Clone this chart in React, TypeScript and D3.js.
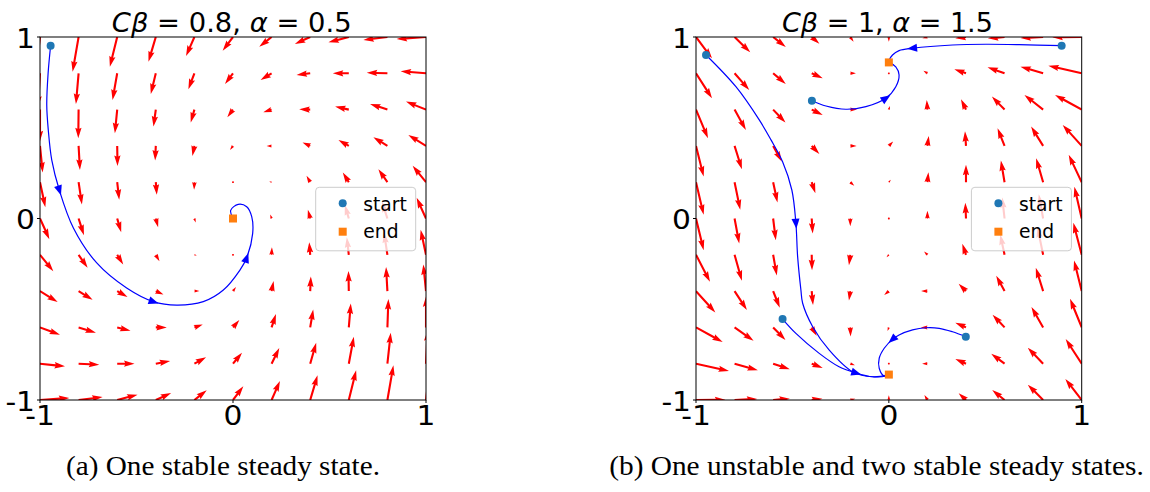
import React, { useLayoutEffect, useRef, useState } from 'react';
import * as d3 from 'd3';

// Quiver sampling grid (rows run from y = 1 down to y = -1)
const gridX = [-1, -0.8, -0.6, -0.4, -0.2, 0, 0.2, 0.4, 0.6, 0.8, 1];
const gridY = [1, 0.8, 0.6, 0.4, 0.2, 0, -0.2, -0.4, -0.6, -0.8, -1];
const tickValues = [-1, 0, 1];
const tickLabels = ['-1', '0', '1'];

// Panel (a): Cβ = 0.8, α = 0.5 — horizontal / vertical components per grid row
const fieldAU = [
  [-0.14, -0.18, -0.22, -0.22, -0.25, -0.31, -0.37, -0.46, -0.61, -0.72, -0.88],
  [-0.06, -0.08, -0.14, -0.15, -0.18, -0.24, -0.33, -0.41, -0.48, -0.62, -0.76],
  [0.0, -0.01, -0.07, -0.07, -0.11, -0.17, -0.25, -0.33, -0.41, -0.52, -0.6],
  [0.08, 0.04, 0.01, -0.02, -0.06, -0.09, -0.15, -0.23, -0.31, -0.42, -0.53],
  [0.16, 0.1, 0.06, 0.03, -0.01, -0.03, -0.07, -0.11, -0.18, -0.27, -0.4],
  [0.28, 0.16, 0.12, 0.07, 0.04, 0.0, -0.04, -0.07, -0.12, -0.16, -0.28],
  [0.4, 0.27, 0.18, 0.11, 0.07, 0.03, 0.01, -0.03, -0.06, -0.1, -0.16],
  [0.53, 0.42, 0.31, 0.23, 0.15, 0.09, 0.06, 0.02, -0.01, -0.04, -0.08],
  [0.6, 0.52, 0.4, 0.33, 0.25, 0.19, 0.13, 0.09, 0.06, 0.03, 0.0],
  [0.75, 0.62, 0.52, 0.43, 0.35, 0.27, 0.23, 0.18, 0.15, 0.1, 0.05],
  [0.88, 0.72, 0.61, 0.46, 0.37, 0.31, 0.25, 0.22, 0.22, 0.18, 0.14],
];
const fieldAV = [
  [-1.15, -1.04, -0.89, -0.74, -0.57, -0.41, -0.29, -0.21, -0.16, -0.09, -0.06],
  [-1.0, -0.92, -0.8, -0.62, -0.48, -0.32, -0.2, -0.05, 0.0, 0.02, 0.06],
  [-0.95, -0.86, -0.71, -0.51, -0.39, -0.23, -0.08, 0.01, 0.09, 0.17, 0.24],
  [-0.8, -0.72, -0.6, -0.44, -0.3, -0.12, 0.0, 0.1, 0.18, 0.26, 0.33],
  [-0.75, -0.67, -0.53, -0.38, -0.23, -0.04, 0.02, 0.19, 0.29, 0.39, 0.49],
  [-0.62, -0.5, -0.41, -0.26, -0.12, 0.0, 0.12, 0.26, 0.41, 0.5, 0.62],
  [-0.49, -0.39, -0.29, -0.19, -0.02, 0.04, 0.23, 0.38, 0.53, 0.67, 0.75],
  [-0.33, -0.26, -0.18, -0.1, 0.0, 0.12, 0.3, 0.44, 0.6, 0.72, 0.8],
  [-0.22, -0.16, -0.1, 0.0, 0.09, 0.22, 0.4, 0.54, 0.72, 0.85, 0.93],
  [-0.08, -0.03, 0.0, 0.08, 0.19, 0.33, 0.47, 0.63, 0.81, 0.93, 1.0],
  [0.06, 0.09, 0.16, 0.21, 0.29, 0.41, 0.57, 0.74, 0.89, 1.04, 1.15],
];

// Panel (b): Cβ = 1, α = 1.5
const fieldBU = [
  [0.48, 0.47, 0.38, 0.23, 0.1, 0.0, -0.15, -0.32, -0.5, -0.68, -0.88],
  [0.48, 0.44, 0.38, 0.33, 0.17, 0.0, -0.12, -0.35, -0.51, -0.68, -1.0],
  [0.36, 0.34, 0.37, 0.33, 0.2, 0.03, -0.02, -0.15, -0.38, -0.56, -0.8],
  [0.23, 0.22, 0.26, 0.23, 0.19, 0.13, 0.04, -0.03, -0.21, -0.36, -0.57],
  [0.23, 0.17, 0.13, 0.11, 0.12, 0.06, 0.03, 0.0, -0.11, -0.21, -0.39],
  [0.23, 0.14, 0.08, 0.03, 0.0, 0.0, 0.0, -0.02, -0.07, -0.13, -0.22],
  [0.42, 0.22, 0.11, 0.01, -0.04, -0.07, -0.1, -0.11, -0.13, -0.17, -0.25],
  [0.58, 0.37, 0.2, 0.04, -0.04, -0.14, -0.19, -0.22, -0.25, -0.22, -0.23],
  [0.8, 0.57, 0.37, 0.15, 0.01, -0.04, -0.2, -0.32, -0.36, -0.35, -0.35],
  [0.99, 0.7, 0.5, 0.33, 0.14, 0.0, -0.16, -0.32, -0.4, -0.46, -0.48],
  [0.88, 0.68, 0.5, 0.32, 0.15, 0.0, -0.09, -0.22, -0.37, -0.46, -0.49],
];
const fieldBV = [
  [-0.64, -0.46, -0.3, -0.2, -0.14, -0.14, -0.04, -0.04, -0.04, -0.03, -0.01],
  [-0.75, -0.5, -0.32, -0.15, 0.0, 0.02, 0.08, 0.12, 0.18, 0.2, 0.23],
  [-0.86, -0.61, -0.39, -0.16, 0.0, 0.11, 0.29, 0.31, 0.39, 0.44, 0.44],
  [-0.92, -0.7, -0.47, -0.24, 0.0, 0.13, 0.3, 0.44, 0.53, 0.58, 0.63],
  [-0.98, -0.83, -0.61, -0.33, -0.11, 0.07, 0.3, 0.52, 0.65, 0.72, 0.82],
  [-0.95, -0.75, -0.65, -0.45, -0.23, 0.0, 0.23, 0.47, 0.63, 0.73, 0.95],
  [-0.81, -0.78, -0.62, -0.46, -0.31, -0.07, 0.1, 0.33, 0.61, 0.83, 0.96],
  [-0.64, -0.57, -0.5, -0.42, -0.28, -0.12, 0.0, 0.22, 0.46, 0.7, 0.92],
  [-0.44, -0.4, -0.38, -0.25, -0.27, -0.11, 0.0, 0.14, 0.38, 0.61, 0.86],
  [-0.22, -0.2, -0.17, -0.13, -0.05, -0.02, 0.0, 0.14, 0.3, 0.48, 0.74],
  [0.01, 0.03, 0.04, 0.04, 0.04, 0.14, 0.15, 0.2, 0.3, 0.46, 0.63],
];

// Integrated trajectories (first point is the start state)
const pathsA = [
  [
    [-0.945, 0.952], [-0.958, 0.8], [-0.965, 0.625], [-0.957, 0.487], [-0.939, 0.322],
    [-0.9, 0.157], [-0.827, -0.052], [-0.706, -0.245], [-0.551, -0.383], [-0.413, -0.458],
    [-0.292, -0.477], [-0.154, -0.458], [-0.05, -0.394], [0.036, -0.284], [0.07, -0.219],
    [0.102, -0.082], [0.097, 0.01], [0.071, 0.065], [0.027, 0.078], [-0.012, 0.045], [0.0, 0.0],
  ],
];
const arrowsA = [[0, 5], [0, 9], [0, 14]];
const endsA = [[0, 0]];

const pathsB = [
  [
    [-0.948, 0.901], [-0.793, 0.726], [-0.672, 0.543], [-0.611, 0.433], [-0.551, 0.313],
    [-0.503, 0.157], [-0.482, -0.026], [-0.473, -0.21], [-0.456, -0.394], [-0.447, -0.467],
    [-0.395, -0.596], [-0.309, -0.725], [-0.188, -0.844], [-0.084, -0.872], [0.0, -0.86],
  ],
  [
    [-0.551, -0.554], [-0.482, -0.633], [-0.361, -0.743], [-0.258, -0.817], [-0.171, -0.851],
    [-0.083, -0.872], [-0.015, -0.868], [0.0, -0.86],
  ],
  [
    [0.399, -0.651], [0.33, -0.624], [0.261, -0.605], [0.192, -0.602], [0.123, -0.614],
    [0.053, -0.642], [0.019, -0.666], [-0.024, -0.715], [-0.05, -0.77], [-0.05, -0.825],
    [-0.024, -0.868], [0.0, -0.86],
  ],
  [
    [-0.399, 0.649], [-0.326, 0.62], [-0.223, 0.602], [-0.119, 0.616], [-0.016, 0.662],
    [0.036, 0.726], [0.053, 0.791], [0.036, 0.836], [0.0, 0.86],
  ],
  [
    [0.896, 0.952], [0.675, 0.958], [0.503, 0.96], [0.33, 0.956], [0.123, 0.938],
    [0.053, 0.925], [0.019, 0.901], [0.002, 0.873], [0.0, 0.86],
  ],
];
const arrowsB = [[0, 6], [1, 4], [2, 6], [3, 4], [4, 4]];
const endsB = [[0, -0.86], [0, 0.86]];

const titleA: [string, boolean][] = [['Cβ', true], [' = 0.8, ', false], ['α', true], [' = 0.5', false]];
const titleB: [string, boolean][] = [['Cβ', true], [' = 1, ', false], ['α', true], [' = 1.5', false]];
const captions = ['(a) One stable steady state.', '(b) One unstable and two stable steady states.'];
const legendLabels = ['start', 'end'];

const RED = '#ff0000';
const BLUE = '#0000ff';
const START_C = '#1f77b4';
const END_C = '#ff7f0e';
const SANS = '"DejaVu Sans", sans-serif';
const SERIF = '"Liberation Serif", "DejaVu Serif", serif';

// pixels per field unit for the quiver arrows
const K = 100 / 3;
// matplotlib-like quiver geometry (shaft width in px)
const QW = 2.1;
// tick labels are drawn slightly wide
const STRETCH = 1.1;

function quiverShape(x: number, y: number, dx: number, dy: number): string {
  const L = Math.hypot(dx, dy);
  if (L < QW) {
    const r = QW / 2;
    const pts = d3.range(6).map((k) => {
      const a = (Math.PI / 3) * k;
      return [x + r * Math.cos(a), y + r * Math.sin(a)];
    });
    return 'M' + pts.map((p) => p.join(',')).join('L') + 'Z';
  }
  const hl = 5 * QW;
  const hal = 4.5 * QW;
  const hw = 3 * QW;
  const minsh = hl;
  let len = L;
  let s = 1;
  if (L < minsh) {
    len = minsh;
    s = L / minsh;
  }
  const local = [
    [0, 0.5 * QW],
    [len - hal, 0.5 * QW],
    [len - hl, 0.5 * hw],
    [len, 0],
    [len - hl, -0.5 * hw],
    [len - hal, -0.5 * QW],
    [0, -0.5 * QW],
  ];
  const c = dx / L;
  const sn = dy / L;
  const pts = local.map(([px, py]) => {
    const qx = px * s;
    const qy = py * s;
    return [x + qx * c - qy * sn, y + qx * sn + qy * c];
  });
  return 'M' + pts.map((p) => p[0].toFixed(2) + ',' + p[1].toFixed(2)).join('L') + 'Z';
}

// Text squeezed or stretched horizontally to a given width, centred on x
function FitText({
  x,
  y,
  width,
  family,
  size,
  children,
}: {
  x: number;
  y: number;
  width: number;
  family: string;
  size: number;
  children: React.ReactNode;
}) {
  const ref = useRef<SVGTextElement>(null);
  const [sx, setSx] = useState(1);
  useLayoutEffect(() => {
    const el = ref.current;
    if (!el) return;
    const n = el.getComputedTextLength();
    if (n > 0) setSx(width / n);
  }, [width]);
  return (
    <text
      ref={ref}
      transform={`translate(${x},${y}) scale(${sx},1)`}
      textAnchor="middle"
      fontFamily={family}
      fontSize={size}
      style={{ whiteSpace: 'pre' }}
    >
      {children}
    </text>
  );
}

type PanelProps = {
  id: string;
  left: number;
  top: number;
  width: number;
  height: number;
  U: number[][];
  V: number[][];
  paths: number[][][];
  arrows: number[][];
  ends: number[][];
  title: [string, boolean][];
  titleCenter: number;
  titleWidth: number;
};

function Panel({
  id,
  left,
  top,
  width,
  height,
  U,
  V,
  paths,
  arrows,
  ends,
  title,
  titleCenter,
  titleWidth,
}: PanelProps) {
  const xs = d3.scaleLinear().domain([-1, 1]).range([left, left + width]);
  const ys = d3.scaleLinear().domain([-1, 1]).range([top + height, top]);
  const line = d3
    .line<number[]>()
    .x((d) => xs(d[0]))
    .y((d) => ys(d[1]))
    .curve(d3.curveCatmullRom.alpha(0.5));

  const quiver: string[] = [];
  gridY.forEach((gy, j) => {
    gridX.forEach((gx, i) => {
      quiver.push(quiverShape(xs(gx), ys(gy), U[j][i] * K, -V[j][i] * K));
    });
  });

  const heads = arrows.map(([p, k]) => {
    const path = paths[p];
    const a = path[Math.max(0, k - 1)];
    const b = path[Math.min(path.length - 1, k + 1)];
    const cx = xs(path[k][0]);
    const cy = ys(path[k][1]);
    const ang = Math.atan2(ys(b[1]) - ys(a[1]), xs(b[0]) - xs(a[0]));
    const c = Math.cos(ang);
    const s = Math.sin(ang);
    const tri = [
      [5.5, 0],
      [-4.5, 4],
      [-4.5, -4],
    ].map(([u, v]) => [cx + u * c - v * s, cy + u * s + v * c]);
    return 'M' + tri.map((q) => q.join(',')).join('L') + 'Z';
  });

  const lg = { x: left + width - 110.3, y: top + 150.3, w: 100, h: 63.5 };

  return (
    <g>
      <defs>
        <clipPath id={id}>
          <rect x={left} y={top} width={width} height={height} />
        </clipPath>
      </defs>
      <g clipPath={`url(#${id})`}>
        {quiver.map((d, k) => (
          <path key={k} d={d} fill={RED} />
        ))}
        {paths.map((p, k) => (
          <path key={k} d={line(p) || ''} fill="none" stroke={BLUE} strokeWidth={1.2} />
        ))}
        {heads.map((d, k) => (
          <path key={k} d={d} fill={BLUE} />
        ))}
      </g>
      {paths.map((p, k) => (
        <circle key={k} cx={xs(p[0][0])} cy={ys(p[0][1])} r={4} fill={START_C} />
      ))}
      {ends.map((e, k) => (
        <rect key={k} x={xs(e[0]) - 4} y={ys(e[1]) - 4} width={8} height={8} fill={END_C} />
      ))}
      <rect x={left} y={top} width={width} height={height} fill="none" stroke="#000" strokeWidth={1} />
      {tickValues.map((t, k) => (
        <g key={k}>
          <line x1={xs(t)} x2={xs(t)} y1={top + height} y2={top + height + 3} stroke="#000" />
          <line x1={left - 3} x2={left} y1={ys(t)} y2={ys(t)} stroke="#000" />
          <text
            transform={`translate(${xs(t)},${top + height + 25}) scale(${STRETCH},1)`}
            textAnchor="middle"
            fontFamily={SANS}
            fontSize={27}
          >
            {tickLabels[k]}
          </text>
          <text
            transform={`translate(${left - 5},${ys(t) + 10.5}) scale(${STRETCH},1)`}
            textAnchor="end"
            fontFamily={SANS}
            fontSize={27}
          >
            {tickLabels[k]}
          </text>
        </g>
      ))}
      <FitText x={titleCenter} y={top - 5.5} width={titleWidth} family={SANS} size={27}>
        {title.map(([s, it], k) => (
          <tspan key={k} fontStyle={it ? 'italic' : 'normal'}>
            {s}
          </tspan>
        ))}
      </FitText>
      <rect
        x={lg.x}
        y={lg.y}
        width={lg.w}
        height={lg.h}
        rx={3.5}
        fill="#ffffff"
        fillOpacity={0.8}
        stroke="#cccccc"
        strokeWidth={1}
      />
      <circle cx={lg.x + 27} cy={lg.y + 16} r={4} fill={START_C} />
      <rect x={lg.x + 23} y={lg.y + 40.4} width={8} height={8} fill={END_C} />
      <text x={lg.x + 47.6} y={lg.y + 23.4} fontFamily={SANS} fontSize={18.7}>
        {legendLabels[0]}
      </text>
      <text x={lg.x + 47.6} y={lg.y + 51} fontFamily={SANS} fontSize={18.7}>
        {legendLabels[1]}
      </text>
    </g>
  );
}

export default function App() {
  return (
    <svg
      width={1150}
      height={492}
      viewBox="0 0 1150 492"
      style={{ position: 'absolute', left: 0, top: 0, display: 'block', background: '#fff' }}
    >
      <rect x={0} y={0} width={1150} height={492} fill="#fff" />
      <Panel
        id="clipA"
        left={40}
        top={37}
        width={386}
        height={363}
        U={fieldAU}
        V={fieldAV}
        paths={pathsA}
        arrows={arrowsA}
        ends={endsA}
        title={titleA}
        titleCenter={231.7}
        titleWidth={240}
      />
      <Panel
        id="clipB"
        left={696}
        top={37}
        width={385.7}
        height={363}
        U={fieldBU}
        V={fieldBV}
        paths={pathsB}
        arrows={arrowsB}
        ends={endsB}
        title={titleB}
        titleCenter={887.4}
        titleWidth={211}
      />
      <FitText x={223} y={475} width={314} family={SERIF} size={27}>
        {captions[0]}
      </FitText>
      <FitText x={876.5} y={475} width={535} family={SERIF} size={27}>
        {captions[1]}
      </FitText>
    </svg>
  );
}
